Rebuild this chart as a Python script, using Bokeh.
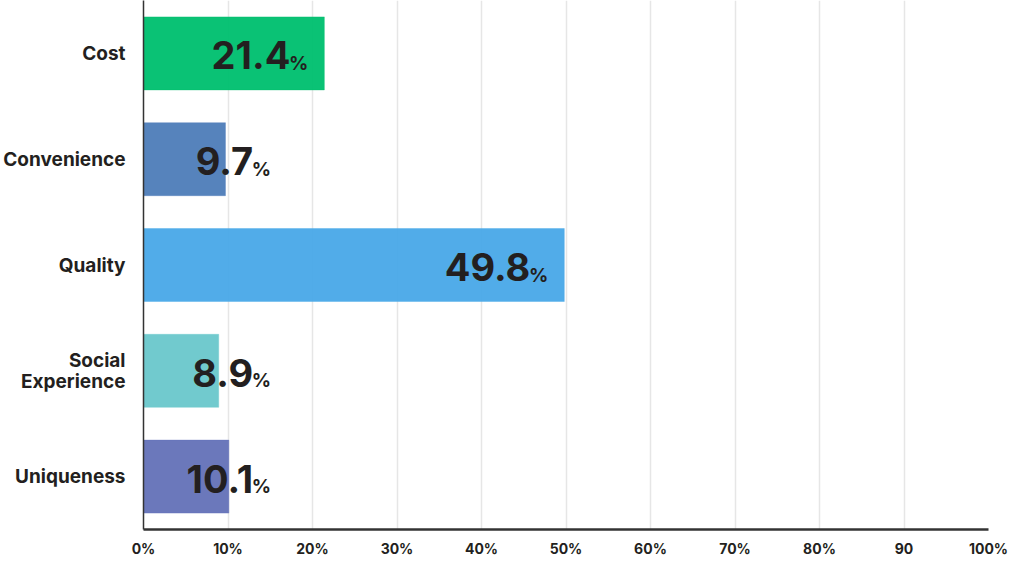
from bokeh.plotting import figure
from bokeh.models import ColumnDataSource, FixedTicker, Range1d, FactorRange
from bokeh.core.properties import value
from bokeh.embed import file_html
from bokeh.resources import INLINE

categories = ["Cost", "Convenience", "Quality", "Social\nExperience", "Uniqueness"]
values = [21.4, 9.7, 49.8, 8.9, 10.1]
colors = ["#00BF6F", "#4F7EB9", "#4AA9E8", "#6BC8CC", "#6573B8"]
tick_values = [0, 10, 20, 30, 40, 50, 60, 70, 80, 90, 100]
tick_labels = ["0%", "10%", "20%", "30%", "40%", "50%", "60%", "70%", "80%", "90", "100%"]
label_min = 17.0

FONT = "Inter"
INK = "#231F20"

src = ColumnDataSource(dict(
    cat=categories,
    val=values,
    color=colors,
    num=[f"{v:.1f}" for v in values],
    pct=["%"] * len(values),
    lx=[max(v, label_min) for v in values],
))

p = figure(
    width=1008, height=559,
    y_range=FactorRange(factors=list(reversed(categories))),
    x_range=Range1d(0, 100),
    output_backend="svg", toolbar_location=None,
    min_border_left=141, min_border_right=20, min_border_top=0, min_border_bottom=0,
)
p.outline_line_color = None
p.background_fill_color = "white"

p.hbar(y="cat", right="val", left=0, height=0.69, source=src,
       fill_color="color", fill_alpha=0.96, line_color="color", line_alpha=0.4)

p.text(x="lx", y="cat", text="num", source=src, x_offset=-34, y_offset=2,
       text_align="right", text_baseline="alphabetic",
       text_font=value(FONT), text_font_style="bold", text_font_size="38px",
       text_color=INK)
p.text(x="lx", y="cat", text="pct", source=src, x_offset=-16, y_offset=10,
       text_align="right", text_baseline="alphabetic",
       text_font=value(FONT), text_font_style="bold", text_font_size="19px",
       text_color=INK)

p.ygrid.grid_line_color = None
p.xgrid.grid_line_color = "#E6E6E6"
p.xgrid.grid_line_width = 1.5
p.xaxis.ticker = FixedTicker(ticks=tick_values)
p.xaxis.major_label_overrides = {t: l for t, l in zip(tick_values, tick_labels)}

for ax in (p.xaxis[0], p.yaxis[0]):
    ax.major_tick_line_color = None
    ax.minor_tick_line_color = None
    ax.major_tick_out = 0
    ax.major_tick_in = 0
    ax.axis_line_color = "#333333"
    ax.major_label_text_font = FONT
    ax.major_label_text_font_style = "bold"
    ax.major_label_text_color = INK
    ax.axis_label_standoff = 0

p.xaxis.axis_line_width = 2.5
p.yaxis.axis_line_width = 1.5
p.xaxis.major_label_text_font_size = "14px"
p.xaxis.major_label_text_line_height = 1.0
p.xaxis.major_label_standoff = 10
p.yaxis.major_label_text_font_size = "19px"
p.yaxis.major_label_text_line_height = 0.9
p.yaxis.major_label_standoff = 18

open("out.html", "w").write(file_html(p, INLINE))
